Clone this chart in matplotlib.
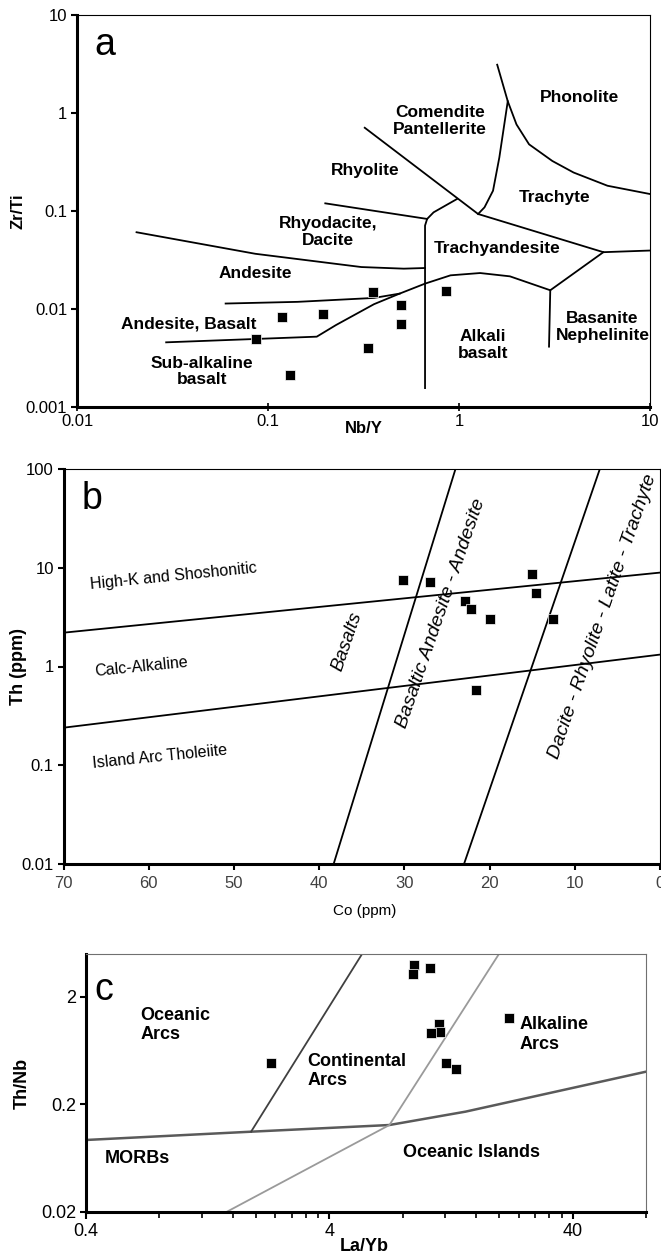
import matplotlib
matplotlib.use("Agg")
import matplotlib.pyplot as plt
from matplotlib.ticker import FixedLocator, NullLocator, FixedFormatter, NullFormatter

plt.rcParams['font.family'] = ['Liberation Sans', 'DejaVu Sans']

# ---------------- panel a: Zr/Ti vs Nb/Y ----------------
a_nby = [0.087, 0.118, 0.195, 0.356, 0.496, 0.496, 0.858, 0.333, 0.131]
a_zrti = [0.0050, 0.0082, 0.0089, 0.0148, 0.0109, 0.0070, 0.0153, 0.0040, 0.0021]

a_bounds = [
    # andesite / rhyodacite
    ([0.0205, 0.0858, 0.308, 0.514, 0.664], [0.0607, 0.0366, 0.0268, 0.0258, 0.0262]),
    # rhyodacite / rhyolite
    ([0.1995, 0.681], [0.1197, 0.083]),
    # vertical trachyandesite / alkali basalt edge
    ([0.975, 0.736, 0.681, 0.664, 0.664], [0.1324, 0.0969, 0.083, 0.071, 0.00156]),
    # rhyolite / comendite, trachyandesite / trachyte
    ([0.321, 1.259, 5.70, 10.0], [0.707, 0.0932, 0.038, 0.0395]),
    # comendite / trachyte
    ([1.259, 1.36, 1.507, 1.626, 1.80, 1.585], [0.0932, 0.109, 0.161, 0.351, 1.318, 3.11]),
    # phonolite / trachyte
    ([1.80, 2.0, 2.327, 3.08, 3.98, 5.99, 10.0], [1.318, 0.764, 0.479, 0.324, 0.247, 0.181, 0.149]),
    # sub-alkaline / alkaline
    ([0.0293, 0.180, 0.227, 0.359, 0.489, 0.664, 0.903, 1.29, 1.848, 3.005, 5.70],
     [0.00457, 0.00522, 0.00686, 0.0112, 0.01436, 0.01815, 0.02206, 0.02328, 0.02154, 0.01553, 0.038]),
    # basanite
    ([3.005, 2.96], [0.01553, 0.00413]),
    # andesite / andesite-basalt
    ([0.06, 0.143, 0.359, 0.489], [0.01137, 0.01183, 0.01297, 0.01436]),
]

a_labels = [
    ("Phonolite", 4.30, 1.43),
    ("Comendite\nPantellerite", 0.794, 0.826),
    ("Rhyolite", 0.324, 0.2567),
    ("Trachyte", 3.16, 0.138),
    ("Rhyodacite,\nDacite", 0.207, 0.0607),
    ("Trachyandesite", 1.585, 0.0411),
    ("Andesite", 0.0858, 0.0229),
    ("Andesite, Basalt", 0.0384, 0.00702),
    ("Sub-alkaline\nbasalt", 0.0453, 0.0023),
    ("Alkali\nbasalt", 1.339, 0.0043),
    ("Basanite\nNephelinite", 5.64, 0.00659),
]

# ---------------- panel b: Th vs Co ----------------
b_co = [30.2, 27.0, 22.9, 22.2, 19.9, 15.0, 14.5, 12.6, 21.6]
b_th = [7.52, 7.18, 4.64, 3.85, 3.05, 8.66, 5.55, 3.02, 0.584]

b_bounds = [
    ([70, 0], [2.20, 8.93]),
    ([70, 0], [0.240, 1.32]),
    ([38.3, 24.0], [0.01, 100]),
    ([23.0, 7.06], [0.01, 100]),
]

# ---------------- panel c: Th/Nb vs La/Yb ----------------
c_layb = [8.91, 8.80, 10.4, 11.3, 11.4, 10.5, 12.1, 13.2, 21.9, 2.31]
c_thnb = [3.94, 3.22, 3.67, 1.114, 0.946, 0.913, 0.488, 0.425, 1.258, 0.488]

c_morb_x = [0.4, 1.907, 7.06, 14.5, 80]
c_morb_y = [0.0933, 0.1114, 0.1285, 0.171, 0.402]
c_ocean_x = [1.907, 5.45]
c_ocean_y = [0.1114, 4.98]
c_alk_x = [1.51, 7.06, 19.9]
c_alk_y = [0.02, 0.1285, 4.98]

c_labels = [
    ("Oceanic\nArcs", 0.671, 1.09),
    ("Continental\nArcs", 3.26, 0.408),
    ("Alkaline\nArcs", 24.2, 0.893),
    ("MORBs", 0.479, 0.063),
    ("Oceanic Islands", 8.03, 0.0711),
]

W, H = 661, 1258
fig = plt.figure(figsize=(W / 100, H / 100), dpi=100)


def frac(l, t, r, b):
    return [l / W, 1 - b / H, (r - l) / W, (b - t) / H]


def style_spines(ax, edge="black"):
    for s in ("left", "bottom"):
        ax.spines[s].set_linewidth(2.2)
        ax.spines[s].set_color("black")
    for s in ("top", "right"):
        ax.spines[s].set_linewidth(0.8)
        ax.spines[s].set_color(edge)


# panel a
ax = fig.add_axes(frac(77, 15, 650, 407))
ax.set_xscale("log"); ax.set_yscale("log")
ax.set_xlim(0.01, 10); ax.set_ylim(0.001, 10)
for xs, ys in a_bounds:
    ax.plot(xs, ys, color="black", lw=1.3)
ax.plot(a_nby, a_zrti, "s", color="black", ms=6.5, mec="white", mew=0.5)
for txt, x, y in a_labels:
    ax.text(x, y, txt, ha="center", va="center", fontsize=12.5, fontweight="bold", linespacing=1.15)
ax.text(0.03, 0.97, "a", transform=ax.transAxes, fontsize=27, va="top", ha="left")
ax.xaxis.set_major_locator(FixedLocator([0.01, 0.1, 1, 10]))
ax.xaxis.set_major_formatter(FixedFormatter(["0.01", "0.1", "1", "10"]))
ax.yaxis.set_major_locator(FixedLocator([0.001, 0.01, 0.1, 1, 10]))
ax.yaxis.set_major_formatter(FixedFormatter(["0.001", "0.01", "0.1", "1", "10"]))
ax.xaxis.set_minor_locator(NullLocator()); ax.yaxis.set_minor_locator(NullLocator())
ax.tick_params(axis="x", direction="inout", length=6, width=1.2, labelsize=12, pad=2)
ax.tick_params(axis="y", direction="out", length=4, width=1.5, labelsize=12, pad=3)
ax.set_xlabel("Nb/Y", fontsize=12, fontweight="bold")
ax.xaxis.set_label_coords(0.5, -0.055)
ax.xaxis.label.set_va("center")
ax.set_ylabel("Zr/Ti", fontsize=12, fontweight="bold")
ax.yaxis.set_label_coords(-0.103, 0.5)
ax.yaxis.label.set_va("center")
style_spines(ax)

# panel b
ax = fig.add_axes(frac(63.5, 469, 660, 864))
ax.set_yscale("log")
ax.set_xlim(70, 0); ax.set_ylim(0.01, 100)
for xs, ys in b_bounds:
    ax.plot(xs, ys, color="black", lw=1.3)
ax.plot(b_co, b_th, "s", color="black", ms=6.5, mec="white", mew=0.5)
ax.text(57.1, 8.13, "High-K and Shoshonitic", ha="center", va="center", fontsize=11.5, rotation=5.7)
ax.text(60.85, 0.99, "Calc-Alkaline", ha="center", va="center", fontsize=11.5, rotation=5.7)
ax.text(58.7, 0.121, "Island Arc Tholeiite", ha="center", va="center", fontsize=11.5, rotation=5.7)
ax.text(36.75, 1.78, "Basalts", ha="center", va="center", fontsize=13.5, style="italic", rotation=71)
ax.text(25.7, 3.45, "Basaltic Andesite - Andesite", ha="center", va="center", fontsize=14,
        style="italic", rotation=71)
ax.text(6.67, 3.19, "Dacite - Rhyolite - Latite - Trachyte", ha="center", va="center", fontsize=14,
        style="italic", rotation=71)
ax.text(0.03, 0.97, "b", transform=ax.transAxes, fontsize=27, va="top", ha="left")
ax.xaxis.set_major_locator(FixedLocator([70, 60, 50, 40, 30, 20, 10, 0]))
ax.yaxis.set_major_locator(FixedLocator([0.01, 0.1, 1, 10, 100]))
ax.yaxis.set_major_formatter(FixedFormatter(["0.01", "0.1", "1", "10", "100"]))
ax.yaxis.set_minor_locator(NullLocator())
ax.tick_params(axis="x", direction="out", length=4, width=1.5, labelsize=12, labelcolor="#404040", pad=5)
ax.tick_params(axis="y", direction="out", length=4, width=1.5, labelsize=12, pad=3)
ax.set_xlabel("Co (ppm)", fontsize=11)
ax.xaxis.set_label_coords(0.505, -0.12)
ax.xaxis.label.set_va("center")
ax.set_ylabel("Th (ppm)", fontsize=13, fontweight="bold")
ax.yaxis.set_label_coords(-0.076, 0.5)
ax.yaxis.label.set_va("center")
style_spines(ax)

# panel c
ax = fig.add_axes(frac(86, 954, 646, 1212))
ax.set_xscale("log"); ax.set_yscale("log")
ax.set_xlim(0.4, 80); ax.set_ylim(0.02, 4.98)
ax.plot(c_morb_x, c_morb_y, color="#5a5a5a", lw=1.8)
ax.plot(c_ocean_x, c_ocean_y, color="#404040", lw=1.3)
ax.plot(c_alk_x, c_alk_y, color="#9a9a9a", lw=1.3)
ax.plot(c_layb, c_thnb, "s", color="black", ms=6.5, mec="white", mew=0.5)
for txt, x, y in c_labels:
    ax.text(x, y, txt, ha="left", va="center", fontsize=13, fontweight="bold", linespacing=1.2)
ax.text(0.015, 0.93, "c", transform=ax.transAxes, fontsize=27, va="top", ha="left")
ax.xaxis.set_major_locator(FixedLocator([0.4, 4, 40]))
ax.xaxis.set_major_formatter(FixedFormatter(["0.4", "4", "40"]))
c_minor = [0.4 * k * m for m in (1, 10) for k in range(2, 10)] + [80]
ax.xaxis.set_minor_locator(FixedLocator(c_minor))
ax.xaxis.set_minor_formatter(NullFormatter())
ax.yaxis.set_major_locator(FixedLocator([0.02, 0.2, 2]))
ax.yaxis.set_major_formatter(FixedFormatter(["0.02", "0.2", "2"]))
ax.yaxis.set_minor_locator(NullLocator())
ax.tick_params(axis="x", which="major", direction="out", length=5, width=1.5, labelsize=13, pad=3)
ax.tick_params(axis="x", which="minor", direction="out", length=4, width=1.2)
ax.tick_params(axis="y", direction="out", length=4, width=1.5, labelsize=13, pad=3)
ax.set_xlabel("La/Yb", fontsize=13, fontweight="bold")
ax.xaxis.set_label_coords(0.496, -0.132)
ax.xaxis.label.set_va("center")
ax.set_ylabel("Th/Nb", fontsize=13, fontweight="bold")
ax.yaxis.set_label_coords(-0.114, 0.5)
ax.yaxis.label.set_va("center")
style_spines(ax, edge="#707070")

fig.savefig("out.png", dpi=100)
